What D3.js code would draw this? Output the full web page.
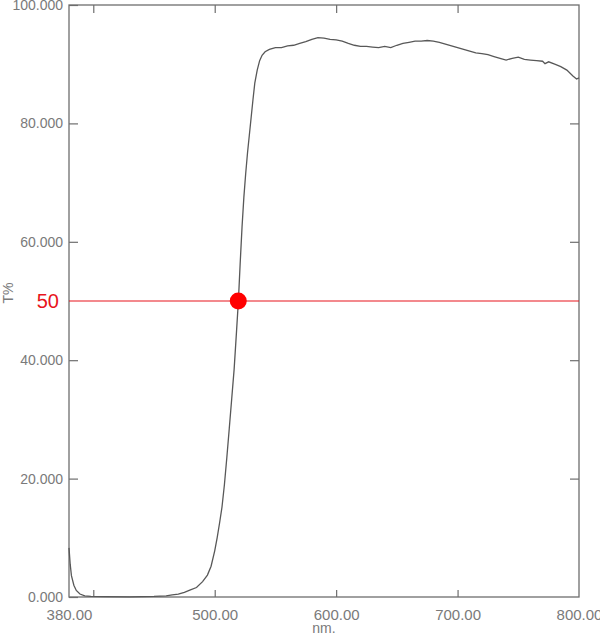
<!DOCTYPE html>
<html>
<head>
<meta charset="utf-8">
<script src="https://cdn.jsdelivr.net/npm/d3@7"></script>
<style>
  body { margin: 0; background: #fff; }
  text { font-family: "Liberation Sans", Arial, sans-serif; }
</style>
</head>
<body>
<div id="chart"></div>
<script>
// wavelength (nm) and transmittance (T%)
var wavelength = [380, 381, 382, 384, 386, 389, 393, 398, 410, 430, 450, 460, 465, 470, 475, 480, 485, 490, 494, 497,
  500, 502, 504, 506, 508, 510, 512, 514, 516, 518, 519.5, 521, 522.5, 524, 525.5, 527, 528.5, 530, 531.5, 533,
  535, 537, 539, 541.5, 545, 550, 555, 560, 565, 570, 575, 580, 585, 590, 595, 600, 605, 610, 615, 620,
  625, 630, 635, 640, 645, 650, 655, 660, 665, 670, 675, 680, 685, 690, 695, 700, 705, 710, 715, 720,
  725, 730, 735, 740, 745, 750, 755, 760, 765, 770, 772, 775, 780, 785, 790, 795, 798, 800]
var transmittance = [8.3, 5.5, 3.6, 2.0, 1.1, 0.5, 0.2, 0.1, 0.05, 0.03, 0.1, 0.2, 0.35, 0.5, 0.8, 1.2, 1.6, 2.6, 3.7, 5.2,
  7.8, 10.0, 12.5, 15.2, 19.0, 23.6, 28.5, 33.5, 38.5, 45.0, 50.0, 56.5, 62.5, 67.5, 71.5, 75.0, 78.0, 81.0, 84.0, 86.8,
  89.0, 90.6, 91.5, 92.1, 92.5, 92.8, 92.8, 93.1, 93.2, 93.5, 93.8, 94.2, 94.5, 94.4, 94.2, 94.1, 93.9, 93.5, 93.2, 93.0,
  93.0, 92.9, 92.8, 93.0, 92.8, 93.2, 93.5, 93.7, 93.9, 93.9, 94.0, 93.9, 93.7, 93.4, 93.1, 92.8, 92.5, 92.2, 91.9, 91.8,
  91.6, 91.3, 91.0, 90.7, 91.0, 91.2, 90.8, 90.7, 90.6, 90.5, 90.1, 90.4, 90.0, 89.6, 89.0, 88.0, 87.5, 87.7]

var xTickMarks = [400, 500, 600, 700]
var xTickLabels = [380, 500, 600, 700, 800]
var yTicks = [0, 20, 40, 60, 80, 100]
var yInnerTicks = [20, 40, 60, 80]

var halfLevel = 50
var halfPoint = {nm: 519.4, T: 50}

var data = wavelength.map(function(w, i) { return {nm: w, T: transmittance[i]} })

var margin = {top: 5, right: 21, bottom: 37, left: 69},
    width = 600 - margin.left - margin.right,
    height = 634 - margin.top - margin.bottom

var x = d3.scaleLinear().domain([380, 800]).range([0, width])
var y = d3.scaleLinear().domain([0, 100]).range([height, 0])

var svg = d3.select("#chart")
  .append("svg")
  .attr("width", 600)
  .attr("height", 634)
  .append("g")
  .attr("transform", "translate(" + margin.left + "," + margin.top + ")")

var axisColor = "#6e6e6e", textColor = "#7a7a7a"

function styleAxis(g) {
  g.select(".domain").remove()
  g.selectAll("line").attr("stroke", axisColor).attr("stroke-width", 1.2)
  g.selectAll("text").attr("fill", textColor)
}

// inward tick marks on all four sides
svg.append("g")
  .attr("transform", "translate(0," + height + ")")
  .call(d3.axisBottom(x).tickValues(xTickMarks).tickSize(-7).tickFormat(""))
  .call(styleAxis)
svg.append("g")
  .call(d3.axisTop(x).tickValues(xTickMarks).tickSize(-8).tickFormat(""))
  .call(styleAxis)
svg.append("g")
  .attr("transform", "translate(" + width + ",0)")
  .call(d3.axisRight(y).tickValues(yInnerTicks).tickSize(-9).tickFormat(""))
  .call(styleAxis)

// y labels + left ticks
svg.append("g")
  .call(d3.axisLeft(y).tickValues(yTicks).tickSizeInner(-9).tickSizeOuter(0).tickPadding(6).tickFormat(d3.format(".3f")))
  .call(styleAxis)
  .selectAll("text").style("font-size", "14px")

// x labels
svg.append("g")
  .attr("transform", "translate(0," + height + ")")
  .call(d3.axisBottom(x).tickValues(xTickLabels).tickSize(0).tickPadding(12).tickFormat(d3.format(".2f")))
  .call(styleAxis)
  .selectAll("text").style("font-size", "15px")

// frame
svg.append("rect")
  .attr("width", width)
  .attr("height", height)
  .attr("fill", "none")
  .attr("stroke", axisColor)
  .attr("stroke-width", 1.3)

// 50% line
svg.append("line")
  .attr("x1", 0).attr("x2", width)
  .attr("y1", y(halfLevel)).attr("y2", y(halfLevel))
  .attr("stroke", "#e8141c")
  .attr("stroke-width", 1.2)

// transmission curve
var drawLine = d3.line()
  .x(function(d) { return x(d.nm) })
  .y(function(d) { return y(d.T) })

svg.append("path")
  .datum(data)
  .attr("fill", "none")
  .attr("stroke", "#585858")
  .attr("stroke-width", 1.3)
  .attr("d", drawLine)

svg.append("circle")
  .attr("cx", x(halfPoint.nm))
  .attr("cy", y(halfPoint.T))
  .attr("r", 8.5)
  .attr("fill", "#ff0000")

svg.append("text")
  .attr("x", -10)
  .attr("y", y(halfLevel))
  .attr("dy", "0.36em")
  .attr("text-anchor", "end")
  .attr("fill", "#e8141c")
  .style("font-size", "20px")
  .text(halfLevel)

// axis titles
svg.append("text")
  .attr("x", width / 2)
  .attr("y", height + 36)
  .attr("text-anchor", "middle")
  .attr("fill", textColor)
  .style("font-size", "14px")
  .text("nm.")

svg.append("text")
  .attr("transform", "translate(" + (13 - margin.left) + "," + (y(halfLevel) - 8) + ") rotate(-90)")
  .attr("text-anchor", "middle")
  .attr("fill", textColor)
  .style("font-size", "14px")
  .text("T%")
</script>
</body>
</html>
